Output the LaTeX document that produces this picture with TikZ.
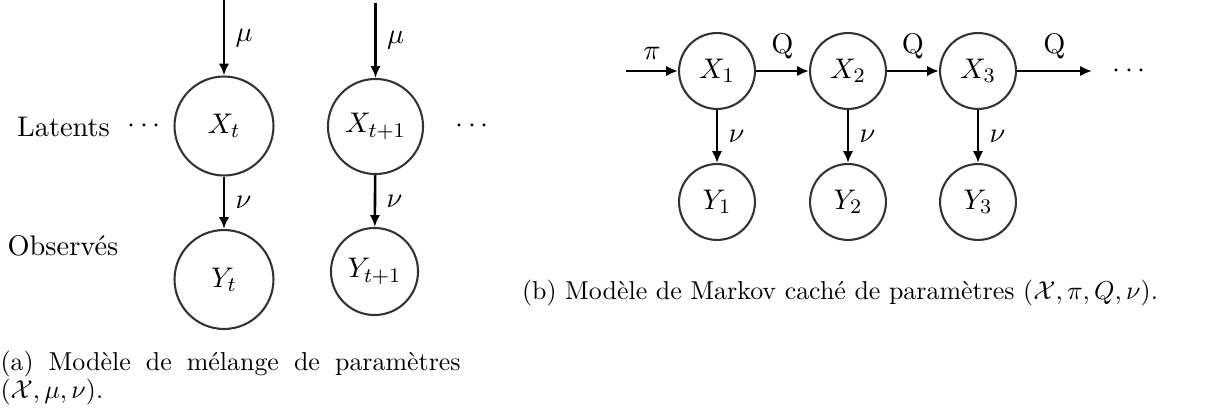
\documentclass[tikz,border=0pt]{standalone}
\usepackage{fontspec}
\usepackage{tikz}
\usetikzlibrary{arrows.meta, positioning}

\begin{document}
\begin{tikzpicture}[
  x=0.386pt, y=-0.386pt,
  every node/.style={font=\fontsize{10.95}{13.6}\selectfont},
  var/.style={circle, draw=black!80, line width=0.8pt, inner sep=0pt, minimum size=#1},
  var/.default=29.3pt,
  lab/.style={inner sep=4pt},
  legende/.style={font=\fontsize{10}{10.5}\selectfont, inner sep=0pt},
  arr/.style={-{Latex[length=4.6pt, width=4pt]}, line width=1pt}
]
  \useasboundingbox (0,0) rectangle (1215,415);

  %% (a) modele de melange
  \node[var=38.2pt] (xt)  at (224,126)   {$X_t$};
  \node[var=38.2pt] (yt)  at (224,279.5) {$Y_t$};
  \node[var=36.7pt] (xtt) at (375.5,126.5) {$X_{t+1}$};
  \node[var=33.6pt] (ytt) at (374.5,271.5) {$Y_{t+1}$};
  \coordinate (mut)  at (224,0);
  \coordinate (mutt) at (375.5,3);

  \node (latents) at (63.5,127) {Latents};
  \node (obs)     at (63,246)   {Observés};
  \node (dotsa)   at (144,126)  {$\cdots$};
  \node (dotsb)   at (472,126)  {$\cdots$};

  \draw[arr] (mut)  -- (xt)  node[lab, midway, right] (mua) {$\mu$};
  \draw[arr] (mutt) -- (xtt) node[lab, midway, right] (mub) {$\mu$};
  \draw[arr] (xt)   -- (yt)  node[lab, midway, right] (nua) {$\nu$};
  \draw[arr] (xtt)  -- (ytt) node[lab, midway, right] (nub) {$\nu$};

  \node[legende, anchor=north west, text width=177.6pt, align=justify] (capa) at (0,351)
    {\hyphenpenalty=10000 (a) Modèle de mélange de paramètres $(\mathcal{X},\mu,\nu)$.};

  %% (b) modele de Markov cache
  \node[var] (x1) at (717,71)  {$X_1$};
  \node[var] (x2) at (848,71)  {$X_2$};
  \node[var] (x3) at (978,71)  {$X_3$};
  \node[var] (y1) at (717,202) {$Y_1$};
  \node[var] (y2) at (848,202) {$Y_2$};
  \node[var] (y3) at (978,202) {$Y_3$};
  \coordinate (init) at (626,71);
  \coordinate (fin)  at (1092,71);
  \node (dotsc) at (1129,71) {$\cdots$};

  \draw[arr] (init) -- (x1) node[lab, midway, above] (pi)  {$\pi$};
  \draw[arr] (x1)   -- (x2) node[lab, midway, above] (q1)  {Q};
  \draw[arr] (x2)   -- (x3) node[lab, midway, above] (q2)  {Q};
  \draw[arr] (x3)   -- (fin) node[lab, midway, above] (q3) {Q};
  \draw[arr] (x1)   -- (y1) node[lab, midway, right] (nu1) {$\nu$};
  \draw[arr] (x2)   -- (y2) node[lab, midway, right] (nu2) {$\nu$};
  \draw[arr] (x3)   -- (y3) node[lab, midway, right] (nu3) {$\nu$};

  \node[legende, anchor=base] (capb) at (840,300)
    {(b) Modèle de Markov caché de paramètres $(\mathcal{X},\pi,Q,\nu)$.};
\end{tikzpicture}
\end{document}
